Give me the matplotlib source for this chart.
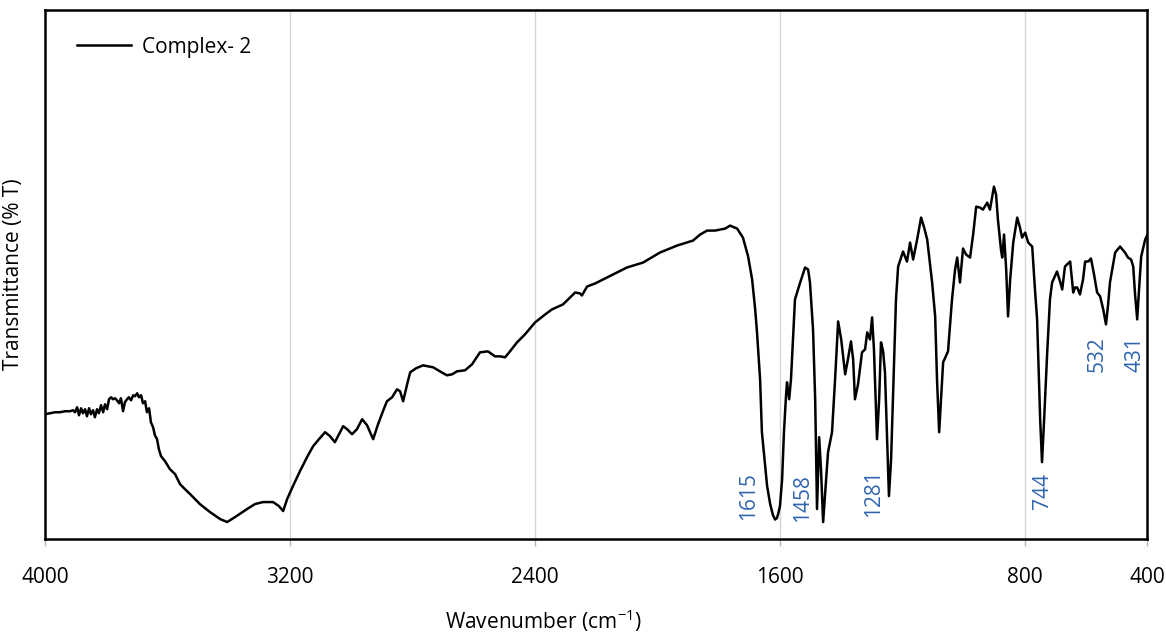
import matplotlib
matplotlib.use("Agg")
import matplotlib.pyplot as plt

wavenumber = [
    4000, 3984, 3967, 3951, 3935, 3918, 3909, 3902, 3895, 3889, 3882, 3876, 3869, 3863,
    3856, 3850, 3843, 3837, 3830, 3824, 3817, 3810, 3804, 3797, 3791, 3784, 3778, 3771,
    3765, 3758, 3752, 3745, 3739, 3732, 3726, 3719, 3712, 3706, 3699, 3693, 3686, 3680,
    3673, 3667, 3660, 3654, 3647, 3641, 3634, 3628, 3621,
    3608, 3592, 3575, 3559, 3543, 3526, 3494, 3461, 3428, 3405, 3379, 3340, 3314, 3288,
    3255, 3236, 3222, 3209, 3190, 3167, 3144, 3124, 3105, 3085, 3069, 3053, 3036, 3026,
    3013, 2997, 2981, 2964, 2948, 2928, 2912, 2896, 2883, 2866, 2850, 2840, 2830, 2817,
    2807, 2788, 2765, 2732, 2710, 2687, 2670, 2654, 2628, 2605, 2579, 2553, 2530, 2513,
    2497, 2481, 2458, 2432, 2399, 2366, 2344, 2308, 2268, 2252, 2246, 2229, 2203, 2177,
    2138, 2099, 2046, 1991, 1935, 1883, 1860, 1837, 1811, 1795, 1778, 1762, 1739, 1720,
    1703, 1690, 1680, 1674, 1664, 1658, 1648, 1641, 1631, 1622, 1615, 1609, 1605, 1599,
    1592, 1586, 1579, 1576, 1569, 1563, 1550, 1533, 1517, 1507, 1501, 1491, 1484, 1478,
    1471, 1465, 1458, 1448, 1442, 1429, 1419, 1409, 1399, 1386, 1377, 1367, 1360, 1354,
    1344, 1331, 1321, 1314, 1305, 1298, 1292, 1282, 1275, 1269, 1262, 1256, 1249, 1243,
    1236, 1230, 1220, 1213, 1197, 1184, 1174, 1164, 1151, 1138, 1128, 1118, 1102, 1092,
    1086, 1079, 1073, 1066, 1050, 1037, 1027, 1020, 1011, 1001, 991, 978, 968, 958,
    945, 936, 922, 913, 900, 893, 887, 877, 873, 867, 860, 854, 847, 837,
    824, 815, 808, 798, 788, 775, 766, 759, 749, 743, 736, 726, 717, 710,
    694, 684, 677, 668, 651, 645, 641, 635, 628, 619, 609, 602, 592, 583,
    573, 563, 553, 543, 534, 527, 521, 504, 488, 472, 462, 452, 445, 439,
    432, 426, 419, 406, 403, 400,
]
transmittance = [
    25.0, 25.2, 25.4, 25.4, 25.6, 25.6, 25.8, 25.4, 26.4, 24.8, 26.2, 25.2, 26.0, 24.6,
    26.2, 25.0, 25.8, 24.4, 26.0, 25.2, 26.8, 25.4, 27.0, 26.0, 28.0, 28.4, 28.0, 28.2,
    27.8, 27.2, 28.2, 25.6, 27.4, 28.0, 28.4, 27.8, 28.8, 28.6, 29.2, 28.4, 28.8, 27.2,
    27.6, 25.4, 26.2, 23.4, 22.4, 20.8, 20.0, 18.0, 16.6,
    15.6, 14.0, 13.0, 11.0, 10.0, 9.0, 7.0, 5.4, 4.0, 3.4, 4.4, 6.0, 7.0, 7.4,
    7.4, 6.6, 5.6, 8.0, 10.6, 13.6, 16.4, 18.6, 20.0, 21.4, 20.6, 19.4, 21.4, 22.6,
    22.0, 21.0, 22.0, 24.0, 22.8, 20.0, 23.0, 25.6, 27.6, 28.4, 30.0, 29.6, 27.6, 31.0,
    33.4, 34.2, 34.8, 34.4, 33.6, 32.8, 33.0, 33.6, 33.8, 35.0, 37.4, 37.6, 36.6, 36.6,
    36.4, 37.6, 39.4, 41.0, 43.4, 45.0, 46.0, 47.0, 49.4, 49.2, 48.8, 50.6, 51.2, 52.0,
    53.2, 54.4, 55.4, 57.4, 58.8, 59.8, 61.0, 61.8, 61.8, 62.0, 62.2, 62.8, 62.2, 60.4,
    56.6, 52.0, 46.0, 41.4, 32.0, 21.4, 15.0, 10.6, 7.0, 4.8, 3.9, 4.2, 5.0, 6.6,
    12.0, 21.4, 29.0, 31.4, 28.0, 32.0, 48.0, 51.4, 54.4, 54.0, 51.4, 42.0, 28.0, 6.0,
    20.4, 14.0, 3.4, 12.0, 17.4, 21.4, 32.0, 43.6, 40.0, 33.0, 36.0, 39.6, 36.0, 28.0,
    31.0, 37.4, 38.0, 41.4, 40.0, 44.4, 38.0, 20.0, 28.0, 39.4, 37.6, 33.4, 20.0, 8.6,
    16.0, 28.0, 48.0, 54.6, 57.6, 55.6, 59.4, 56.0, 60.0, 64.4, 62.4, 60.0, 51.4, 44.6,
    32.0, 21.4, 28.0, 35.4, 37.6, 48.0, 54.0, 56.4, 51.4, 58.2, 57.0, 56.4, 61.0, 66.6,
    66.4, 66.0, 67.4, 66.0, 70.6, 69.0, 64.0, 58.0, 56.4, 61.0, 54.0, 44.6, 52.0, 59.4,
    64.4, 62.4, 60.4, 61.4, 59.4, 58.6, 50.0, 44.0, 24.0, 15.4, 24.0, 37.4, 48.0, 51.4,
    53.6, 51.6, 50.0, 54.6, 55.6, 52.0, 49.4, 50.4, 50.4, 49.0, 52.0, 55.6, 55.6, 56.2,
    53.0, 49.4, 48.6, 46.0, 43.0, 47.0, 51.4, 57.4, 58.6, 57.4, 56.4, 56.0, 54.6, 49.0,
    44.0, 50.0, 56.6, 60.0, 60.4, 60.8,
]

# peak labels: text, x position, y position of the label's lower end
peak_labels = ["1615", "1458", "1281", "744", "532", "431"]
peak_x = [1703, 1524, 1292, 740, 563, 439]
peak_y = [3.8, 3.4, 4.4, 6.0, 33.4, 33.4]

x_ticks = [4000, 3200, 2400, 1600, 800, 400]
grid_x = [3200, 2400, 1600, 800]

plt.rcParams["font.family"] = ["Open Sans", "DejaVu Sans"]
plt.rcParams["mathtext.fontset"] = "custom"
plt.rcParams["mathtext.rm"] = "Open Sans"

fig = plt.figure(figsize=(11.66, 6.35), dpi=100)
ax = fig.add_axes([45 / 1166, 96 / 635, 1102 / 1166, 529 / 635])

for gx in grid_x:
    ax.axvline(gx, color="#d4d4d4", linewidth=1.0, zorder=0)

ax.plot(wavenumber, transmittance, color="black", linewidth=1.8, label="Complex- 2")

for lab, px, py in zip(peak_labels, peak_x, peak_y):
    ax.text(px, py, lab, rotation=90, ha="center", va="bottom",
            color="#2f64b0", fontsize=15)

ax.set_xlim(4000, 400)
ax.set_ylim(0, 106)
ax.set_xticks(x_ticks)
ax.set_xticklabels([str(t) for t in x_ticks])
ax.set_yticks([])
ax.tick_params(axis="x", direction="out", length=5, width=1, color="#b5b5b5",
               labelsize=15, pad=15)

for side in ax.spines.values():
    side.set_linewidth(1.8)
    side.set_color("black")

ax.set_xlabel(r"Wavenumber (cm$\mathregular{^{-1}}$)", fontsize=15)
ax.xaxis.set_label_coords(0.452, -0.13)
ax.set_ylabel("Transmittance (% T)", fontsize=15)
ax.yaxis.set_label_coords(-0.019, 0.5)

ax.legend(loc="upper left", frameon=False, fontsize=15, handlelength=2.6,
          handletextpad=0.5, bbox_to_anchor=(0.012, 0.985))

fig.savefig("out.png", dpi=100)
